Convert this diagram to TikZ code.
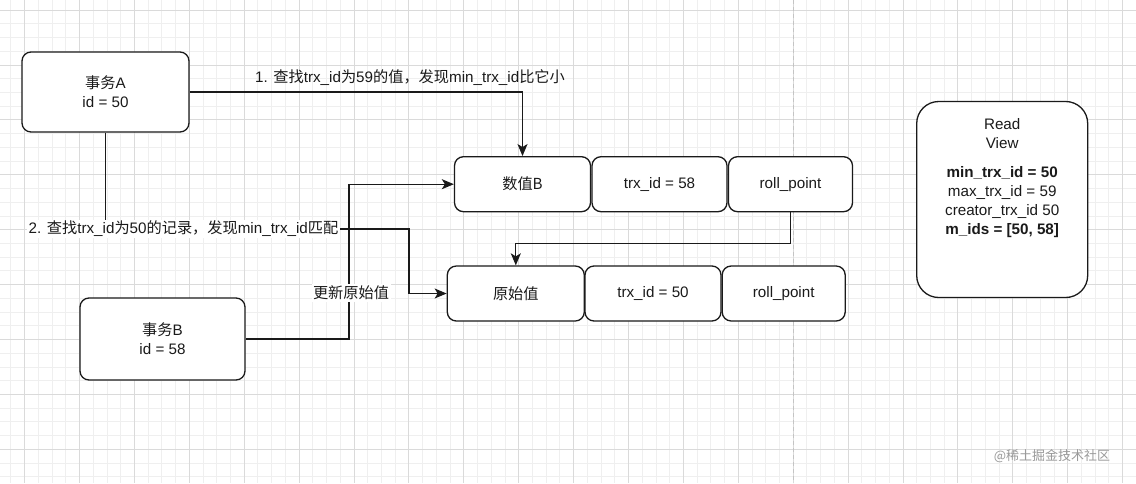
\documentclass[tikz,border=0pt]{standalone}
\usepackage{fontspec}
\setmainfont{Liberation Sans}
\newfontfamily\cjk{Noto Sans CJK SC}
\usetikzlibrary{arrows.meta}
\definecolor{ink}{HTML}{1A1A1A}
\definecolor{gridminor}{HTML}{EFEFEF}
\definecolor{gridmajor}{HTML}{DADADA}
\definecolor{pagedash}{HTML}{C4C4C4}
\definecolor{wmgray}{HTML}{9A9A9A}
\begin{document}
\begin{tikzpicture}[x=1pt,y=-1pt,
  every node/.style={font=\fontsize{15.2}{19}\selectfont, text=ink},
  box/.style={draw=ink, line width=1.3pt, rounded corners=9pt, fill=white, align=center, inner sep=0pt},
  conn/.style={draw=ink, line width=1.3pt},
  arr/.style={conn, -{Stealth[length=12pt,width=10pt,inset=3pt]}},
  lbl/.style={fill=white, inner sep=1.5pt},
  minorgrid/.style={draw=gridminor, line width=0.7pt},
  majorgrid/.style={draw=gridmajor, line width=0.8pt}]
\useasboundingbox (0,0) rectangle (1136,483);
\fill[white] (0,0) rectangle (1136,483);
% background grid
\begin{scope}
\clip (0,0) rectangle (1136,483);
\foreach \i in {-2,...,82} \draw[minorgrid] ({24.5+\i*13.725},0) -- ({24.5+\i*13.725},483);
\foreach \i in {-1,...,35} \draw[minorgrid] (0,{10+\i*13.725}) -- (1136,{10+\i*13.725});
\foreach \i in {-1,...,21} \draw[majorgrid] ({24.5+\i*54.9},0) -- ({24.5+\i*54.9},483);
\foreach \i in {0,...,8} \draw[majorgrid] (0,{10+\i*54.9}) -- (1136,{10+\i*54.9});
\draw[pagedash, line width=0.8pt, dash pattern=on 4pt off 3pt] (793,0) -- (793,483);
\end{scope}

% transactions
\node[box, minimum width=167pt, minimum height=80pt] (A) at (105.5,92) {{\cjk 事务}A\\id = 50};
\node[box, minimum width=165pt, minimum height=82pt] (B) at (162.5,339) {{\cjk 事务}B\\id = 58};

% row 1
\node[box, minimum width=136pt, minimum height=55pt] (vb) at (522.5,184.2) {\cjk 数值B};
\node[box, minimum width=135pt, minimum height=55pt] (t1) at (659.5,184.2) {trx\_id = 58};
\node[box, minimum width=124pt, minimum height=55pt] (r1) at (790.5,184.2) {roll\_point};

% row 2
\node[box, minimum width=137pt, minimum height=55pt] (ys) at (515.8,293.5) {\cjk 原始值};
\node[box, minimum width=136pt, minimum height=55pt] (t2) at (653,293.5) {trx\_id = 50};
\node[box, minimum width=123pt, minimum height=55pt] (r2) at (783.7,293.5) {roll\_point};

% read view
\node[box, rounded corners=22pt, minimum width=171pt, minimum height=196pt] (rv) at (1002.2,199.5) {};
\node[align=center] (rvt) at (1002.2,178.5) {Read\\View\\[10pt]\textbf{min\_trx\_id = 50}\\max\_trx\_id = 59\\creator\_trx\_id 50\\\textbf{m\_ids = [50, 58]}};

% connectors
\draw[arr] (A.east) -| (vb.north);
\node (l1) at (410,78) {1. {\cjk 查找}trx\_id{\cjk 为}59{\cjk 的值，发现}min\_trx\_id{\cjk 比它小}};

\coordinate (c2) at (409,229);
\draw[arr] (A.south) |- (c2) |- (ys.west);
\node[lbl] (l2) at (183.5,229) {2. {\cjk 查找}trx\_id{\cjk 为}50{\cjk 的记录，发现}min\_trx\_id{\cjk 匹配}};

\coordinate (c3) at (349,339);
\draw[arr] (B.east) -- (c3) |- (vb.west);
\node[lbl] (l3) at (351,293) {\cjk 更新原始值};

\coordinate (c4) at (790.5,243.5);
\draw[arr] (r1.south) -- (c4) -| (ys.north);

% watermark
\node[font=\cjk\fontsize{13}{15}\selectfont, text=wmgray] (wm) at (1052,456) {@稀土掘金技术社区};
\end{tikzpicture}
\end{document}
